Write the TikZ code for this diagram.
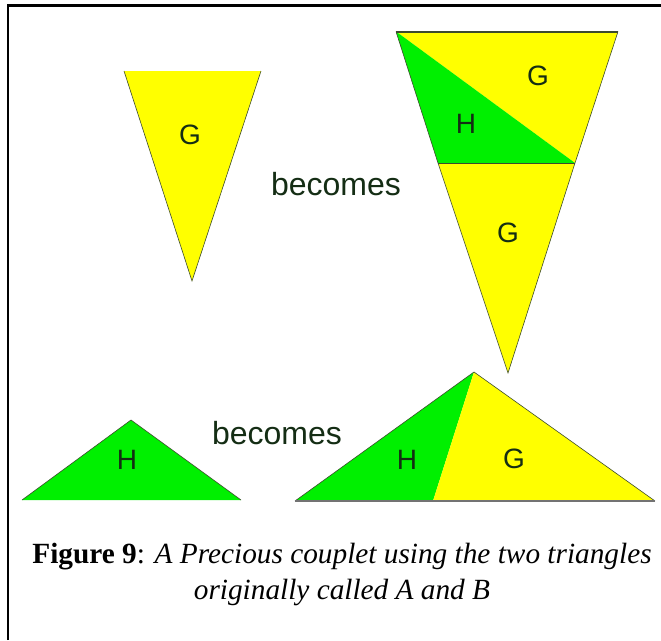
\documentclass[tikz,border=0pt]{standalone}
\usepackage{fontspec}
\setmainfont{Liberation Serif}
\newfontfamily\labelfont{Liberation Sans}
\usepackage{xcolor}
\definecolor{tgreen}{RGB}{0,240,0}
\definecolor{tyellow}{RGB}{255,255,0}
\definecolor{tedge}{RGB}{60,75,45}
\definecolor{ttext}{RGB}{20,45,20}

\tikzset{
  piece/.style={draw=tedge,line width=0.6pt,line join=miter},
  letter/.style={text=ttext,inner sep=0pt,font=\labelfont\fontsize{28}{28}\selectfont},
  word/.style={text=ttext,inner sep=0pt,font=\labelfont\fontsize{32}{32}\selectfont},
}

\begin{document}
\begin{tikzpicture}[x=1pt,y=-1pt]
        \useasboundingbox (0,0) rectangle (661,640);

        %------------------
        % 枠
        %------------------
        \draw[line width=2.5pt] (8,640)--(8,5.5)--(661,5.5);

        %------------------
        % 上段：G が G+H+G になる
        %------------------
        \coordinate (g1a) at (124,71);
        \coordinate (g1b) at (261,71);
        \coordinate (g1c) at (192,281);
        \fill[tyellow] (g1a)--(g1b)--(g1c)--cycle;
        \draw[piece] (g1a)--(g1c)--(g1b);
        \node[letter] (gone) at (190,135) {G};

        \node[word] (becomesone) at (336,184) {becomes};

        % 逆三角形（三つに分割）
        \coordinate (ta) at (396,31.5);
        \coordinate (tb) at (618,31.5);
        \coordinate (tc) at (438,163);
        \coordinate (td) at (575,163);
        \coordinate (te) at (508,373);
        \fill[tyellow] (ta)--(tb)--(td)--cycle;
        \fill[tgreen] (ta)--(td)--(tc)--cycle;
        \fill[tyellow] (tc)--(td)--(te)--cycle;
        \draw[piece] (ta)--(tc)--(te)--(td)--(tb);
        \draw[piece] (tc)--(td);
        \draw[tedge,line width=2pt] (ta)--(tb);
        \node[letter] (gtop) at (538,76) {G};
        \node[letter] (htop) at (466,124) {H};
        \node[letter] (gmid) at (508,233) {G};

        %------------------
        % 下段：H が H+G になる
        %------------------
        \coordinate (h1a) at (22,500);
        \coordinate (h1b) at (241,500);
        \coordinate (h1c) at (131,420);
        \fill[tgreen] (h1a)--(h1c)--(h1b)--cycle;
        \draw[piece] (h1a)--(h1c)--(h1b);
        \node[letter] (hone) at (127,460) {H};

        \node[word] (becomestwo) at (277,433) {becomes};

        % 横長の三角形（二つに分割）
        \coordinate (ba) at (295,501);
        \coordinate (bb) at (655,501);
        \coordinate (bc) at (474,372);
        \coordinate (bd) at (433,501);
        \fill[tgreen] (ba)--(bc)--(bd)--cycle;
        \fill[tyellow] (bd)--(bc)--(bb)--cycle;
        \draw[piece] (ba)--(bc)--(bb);
        \draw[black!55,line width=1.5pt] (ba)--(bb);
        \node[letter] (hbot) at (407,460) {H};
        \node[letter] (gbot) at (514,459) {G};

        % ラベル
        \node[align=center,inner sep=0pt,font=\fontsize{29.3}{36}\selectfont] (caption) at (342,574)
          {{\bfseries Figure 9}: \textit{A Precious couplet using the two triangles}\\
           \textit{originally called A and B}};
      \end{tikzpicture}
\end{document}
